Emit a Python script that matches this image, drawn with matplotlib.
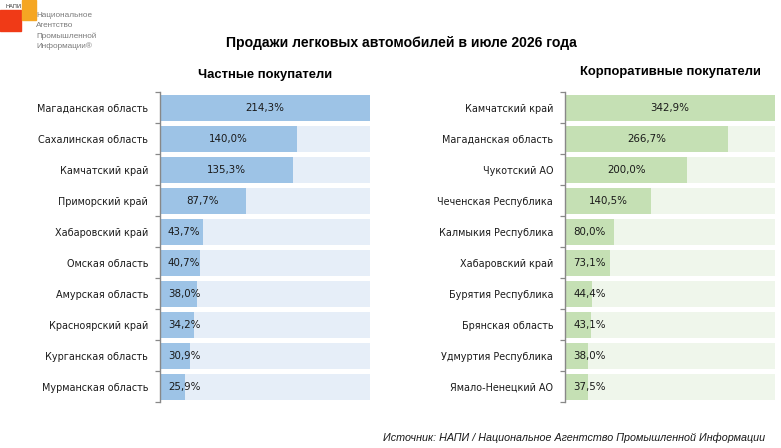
import matplotlib
matplotlib.use("Agg")
import matplotlib.pyplot as plt
from matplotlib.patches import Rectangle

# ---- data ----
private_regions = ["Магаданская область", "Сахалинская область", "Камчатский край",
                   "Приморский край", "Хабаровский край", "Омская область",
                   "Амурская область", "Красноярский край", "Курганская область",
                   "Мурманская область"]
private_values = [214.3, 140.0, 135.3, 87.7, 43.7, 40.7, 38.0, 34.2, 30.9, 25.9]

corp_regions = ["Камчатский край", "Магаданская область", "Чукотский АО",
                "Чеченская Республика", "Калмыкия Республика", "Хабаровский край",
                "Бурятия Республика", "Брянская область", "Удмуртия Республика",
                "Ямало-Ненецкий АО"]
corp_values = [342.9, 266.7, 200.0, 140.5, 80.0, 73.1, 44.4, 43.1, 38.0, 37.5]

title = "Продажи легковых автомобилей в июле 2026 года"
private_title = "Частные покупатели"
corp_title = "Корпоративные покупатели"
source = "Источник: НАПИ / Национальное Агентство Промышленной Информации"

W, H = 781, 448
fig = plt.figure(figsize=(W / 100, H / 100), dpi=100)
fig.patch.set_facecolor("white")

label_font = "DejaVu Sans"


def panel(left_px, regions, values, bar_color, bg_color, subtitle, sub_y):
    ax_left = left_px / W
    ax_w = 210 / W
    ax_bottom = 1 - 402.3 / H
    ax_h = (402.3 - 92.5) / H
    ax = fig.add_axes([ax_left, ax_bottom, ax_w, ax_h])
    n = len(values)
    ypos = list(range(n))
    vmax = max(values)
    ax.barh(ypos, [vmax] * n, height=0.83, color=bg_color, zorder=1)
    ax.barh(ypos, values, height=0.83, color=bar_color, zorder=2)
    ax.set_xlim(0, vmax)
    ax.set_ylim(n - 0.5, -0.5)
    ax.set_yticks(ypos)
    ax.set_yticklabels(regions, fontsize=6.9, family=label_font, color="#1a1a1a")
    ax.set_yticks([i - 0.5 for i in range(n + 1)], minor=True)
    ax.tick_params(axis="y", which="major", length=0, pad=8.5)
    ax.tick_params(axis="y", which="minor", length=3.5, width=0.9, color="#888888")
    ax.set_xticks([])
    for s in ["top", "right", "bottom"]:
        ax.spines[s].set_visible(False)
    ax.spines["left"].set_color("#888888")
    ax.spines["left"].set_linewidth(1.0)
    ax.set_facecolor("none")
    px_per_unit = 210 / vmax
    for y, v in zip(ypos, values):
        txt = f"{v:.1f}%".replace(".", ",")
        if v / 2 * px_per_unit < 24:
            ax.text(8 / px_per_unit, y, txt, ha="left", va="center",
                    fontsize=7.4, family=label_font, color="#1a1a1a", zorder=3)
        else:
            ax.text(v / 2, y, txt, ha="center", va="center",
                    fontsize=7.4, family=label_font, color="#1a1a1a", zorder=3)
    fig.text((left_px + 105) / W, 1 - sub_y / H, subtitle, ha="center", va="center",
             fontsize=9.4, fontweight="bold", family="Liberation Sans")
    return ax


panel(160, private_regions, private_values, "#9DC3E6", "#E6EEF8", private_title, 75)
panel(565, corp_regions, corp_values, "#C5E0B4", "#EFF6EB", corp_title, 72)

fig.text(401 / W, 1 - 43 / H, title, ha="center", va="center",
         fontsize=10.1, fontweight="bold", family="Liberation Sans")
fig.text(765 / W, 1 - 438 / H, source, ha="right", va="center",
         fontsize=7.75, style="italic", family="Liberation Sans", color="#1a1a1a")

# ---- logo ----
fig.patches.append(Rectangle((0, 1 - 31 / H), 21 / W, 21 / H, transform=fig.transFigure,
                             color="#F03A17", zorder=1))
fig.patches.append(Rectangle((22 / W, 1 - 20 / H), 14 / W, 20 / H, transform=fig.transFigure,
                             color="#F5A623", zorder=1))
fig.text(6 / W, 1 - 6 / H, "НАПИ", fontsize=4, ha="left", va="center", color="#333333",
         family="DejaVu Sans")
logo_lines = ["Национальное", "Агентство", "Промышленной", "Информации®"]
for i, line in enumerate(logo_lines):
    fig.text(36 / W, 1 - (15.5 + 10.3 * i) / H, line, fontsize=5.9, ha="left", va="center",
             color="#7a7a7a", family="Liberation Sans", zorder=2)

fig.savefig("out.png", dpi=100)
